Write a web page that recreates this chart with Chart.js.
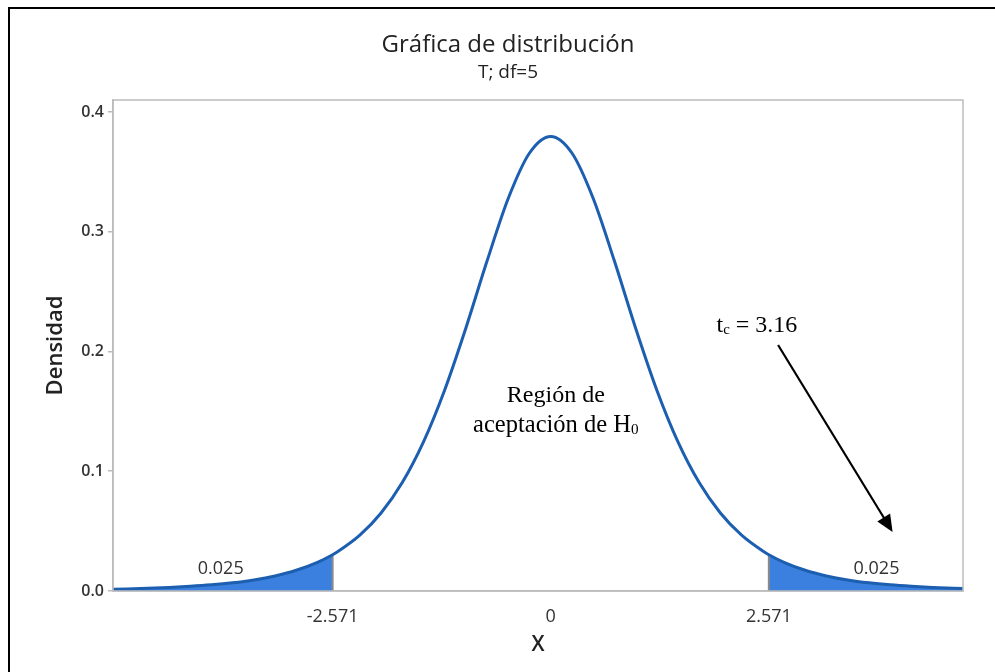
<!DOCTYPE html>
<html>
<head>
<meta charset="utf-8">
<script src="https://cdn.jsdelivr.net/npm/chart.js@4.4.1/dist/chart.umd.min.js"></script>
<style>
  html, body { margin: 0; padding: 0; background: #fff; }
  #caja { width: 995px; height: 672px; }
</style>
</head>
<body>
<div id="caja"><canvas id="graficoT"></canvas></div>
<script>
// Densidad t de Student, df = 5
const valoresX = [-5.25, -5, -4.75, -4.5, -4.25, -4, -3.75, -3.5, -3.25, -3, -2.75, -2.571, -2.5, -2.25, -2, -1.75, -1.5, -1.25, -1, -0.75, -0.5, -0.25,
                  0, 0.25, 0.5, 0.75, 1, 1.25, 1.5, 1.75, 2, 2.25, 2.5, 2.571, 2.75, 3, 3.25, 3.5, 3.75, 4, 4.25, 4.5, 4.75, 5];
const densidad = [0.00137, 0.00176, 0.00227, 0.00295, 0.00387, 0.00512, 0.00685, 0.00924, 0.01259, 0.01729, 0.02393, 0.03032, 0.03333, 0.04657, 0.06509, 0.09054, 0.12452, 0.16790, 0.21968, 0.27570, 0.32792, 0.36573,
                  0.37961, 0.36573, 0.32792, 0.27570, 0.21968, 0.16790, 0.12452, 0.09054, 0.06509, 0.04657, 0.03333, 0.03032, 0.02393, 0.01729, 0.01259, 0.00924, 0.00685, 0.00512, 0.00387, 0.00295, 0.00227, 0.00176];
const valorCritico = 2.571;
const marcasX = [-2.571, 0, 2.571];
const etiquetasX = ['-2.571', '0', '2.571'];
const marcasY = [0, 0.1, 0.2, 0.3, 0.4];
const areaCola = '0.025';

const puntos = valoresX.map((x, i) => ({ x: x, y: densidad[i] }));
const colaIzq = puntos.filter(p => p.x <= -valorCritico);
const colaDer = puntos.filter(p => p.x >= valorCritico);
const yCritico = densidad[valoresX.indexOf(valorCritico)];

const azulLinea = '#1c5eb0';
const azulArea = '#3b80de';
const gris = '#bcbcbc';

// Marco exterior, títulos, borde del área y textos añadidos
const decoracion = {
  id: 'decoracion',
  beforeDraw(chart) {
    const c = chart.ctx;
    c.save();
    c.strokeStyle = '#000';
    c.lineWidth = 2;
    c.beginPath();
    c.moveTo(9, 672); c.lineTo(9, 8); c.lineTo(995, 8);
    c.stroke();
    c.fillStyle = '#222';
    c.textAlign = 'center';
    c.textBaseline = 'middle';
    c.font = '500 24px "Open Sans"';
    c.fillText('Gráfica de distribución', 508, 45);
    c.font = '500 19px "Open Sans"';
    c.fillText('T; df=5', 508, 73);
    c.restore();
  },
  afterDatasetsDraw(chart) {
    const c = chart.ctx;
    const a = chart.chartArea;
    const sx = chart.scales.x, sy = chart.scales.y;
    c.save();
    c.strokeStyle = gris;
    c.lineWidth = 1.5;
    c.strokeRect(a.left, a.top, a.right - a.left, a.bottom - a.top);

    c.fillStyle = '#333';
    c.textAlign = 'center';
    c.textBaseline = 'middle';
    c.font = '18px "Open Sans"';
    c.fillText(areaCola, sx.getPixelForValue(-3.89), sy.getPixelForValue(0.0184));
    c.fillText(areaCola, sx.getPixelForValue(3.84), sy.getPixelForValue(0.0184));

    // texto con subíndice
    function conSub(base, sub, cola, xc, yc, tam) {
      c.font = tam + 'px "Liberation Serif"';
      const w1 = c.measureText(base).width;
      c.font = (tam * 0.62) + 'px "Liberation Serif"';
      const w2 = c.measureText(sub).width;
      c.font = tam + 'px "Liberation Serif"';
      const w3 = c.measureText(cola).width;
      let x0 = xc - (w1 + w2 + w3) / 2;
      c.textAlign = 'left';
      c.textBaseline = 'alphabetic';
      c.fillText(base, x0, yc);
      c.font = (tam * 0.62) + 'px "Liberation Serif"';
      c.fillText(sub, x0 + w1, yc + 2);
      c.font = tam + 'px "Liberation Serif"';
      c.fillText(cola, x0 + w1 + w2, yc);
    }
    c.fillStyle = '#000';
    c.font = '24px "Liberation Serif"';
    c.textAlign = 'center';
    c.textBaseline = 'alphabetic';
    const xr = sx.getPixelForValue(0.06);
    c.fillText('Región de', xr, sy.getPixelForValue(0.158));
    conSub('aceptación de H', '0', '', xr, sy.getPixelForValue(0.1328), 24.5);
    conSub('t', 'c', ' = 3.16', sx.getPixelForValue(2.43), sy.getPixelForValue(0.2163), 24);

    // flecha
    const x1 = sx.getPixelForValue(2.68), y1 = sy.getPixelForValue(0.2054);
    const x2 = sx.getPixelForValue(4.03), y2 = sy.getPixelForValue(0.0493);
    const ang = Math.atan2(y2 - y1, x2 - x1);
    c.strokeStyle = '#000';
    c.lineWidth = 2.2;
    c.beginPath();
    c.moveTo(x1, y1);
    c.lineTo(x2 - 12 * Math.cos(ang), y2 - 12 * Math.sin(ang));
    c.stroke();
    c.beginPath();
    c.moveTo(x2, y2);
    c.lineTo(x2 - 17 * Math.cos(ang) + 7.5 * Math.sin(ang), y2 - 17 * Math.sin(ang) - 7.5 * Math.cos(ang));
    c.lineTo(x2 - 17 * Math.cos(ang) - 7.5 * Math.sin(ang), y2 - 17 * Math.sin(ang) + 7.5 * Math.cos(ang));
    c.closePath();
    c.fillStyle = '#000';
    c.fill();
    c.restore();
  }
};

const ctx = document.getElementById('graficoT').getContext('2d');
const graficoT = new Chart(ctx, {
  type: 'line',
  data: {
    datasets: [
      {
        label: 'Densidad',
        data: puntos,
        borderColor: azulLinea,
        borderWidth: 3,
        pointRadius: 0,
        cubicInterpolationMode: 'monotone',
        fill: false
      },
      {
        label: 'Límite izq.',
        data: [{ x: -valorCritico, y: 0 }, { x: -valorCritico, y: yCritico }],
        borderColor: '#8a8a8a',
        borderWidth: 2,
        pointRadius: 0,
        fill: false
      },
      {
        label: 'Límite der.',
        data: [{ x: valorCritico, y: 0 }, { x: valorCritico, y: yCritico }],
        borderColor: '#8a8a8a',
        borderWidth: 2,
        pointRadius: 0,
        fill: false
      },
      {
        label: 'Cola izquierda',
        data: colaIzq,
        borderWidth: 0,
        borderColor: 'rgba(0,0,0,0)',
        backgroundColor: azulArea,
        pointRadius: 0,
        cubicInterpolationMode: 'monotone',
        fill: 'origin'
      },
      {
        label: 'Cola derecha',
        data: colaDer,
        borderWidth: 0,
        borderColor: 'rgba(0,0,0,0)',
        backgroundColor: azulArea,
        pointRadius: 0,
        cubicInterpolationMode: 'monotone',
        fill: 'origin'
      }
    ]
  },
  options: {
    responsive: true,
    maintainAspectRatio: false,
    animation: false,
    layout: { padding: { top: 100, right: 32, left: 0, bottom: 0 } },
    plugins: {
      legend: { display: false },
      tooltip: { enabled: false }
    },
    scales: {
      x: {
        type: 'linear',
        min: -5.16,
        max: 4.86,
        afterBuildTicks: (s) => { s.ticks = marcasX.map(v => ({ value: v })); },
        afterFit: (s) => { s.height = 81; },
        grid: { display: false, drawTicks: false },
        border: { display: true, color: gris, width: 1.5 },
        ticks: {
          padding: 15,
          color: '#333',
          font: { family: 'Open Sans', size: 18 },
          maxRotation: 0,
          autoSkip: false,
          callback: (v) => etiquetasX[marcasX.indexOf(v)]
        },
        title: {
          display: true,
          text: 'X',
          color: '#222',
          font: { family: 'Open Sans', size: 21, weight: '600' },
          padding: { top: 0, bottom: 14 }
        }
      },
      y: {
        min: 0,
        max: 0.41,
        afterBuildTicks: (s) => { s.ticks = marcasY.map(v => ({ value: v })); },
        afterFit: (s) => { s.width = 113; },
        grid: { display: true, drawOnChartArea: false, color: gris, tickLength: 5, lineWidth: 1.5 },
        border: { display: true, color: gris, width: 1.5 },
        ticks: {
          padding: 4,
          color: '#333',
          font: { family: 'Open Sans', size: 16, weight: '600' },
          callback: (v) => v.toFixed(1)
        },
        title: {
          display: true,
          text: 'Densidad',
          color: '#222',
          font: { family: 'Open Sans', size: 22, weight: '600' },
          padding: { top: 43, bottom: 0 }
        }
      }
    }
  },
  plugins: [decoracion]
});
</script>
</body>
</html>
